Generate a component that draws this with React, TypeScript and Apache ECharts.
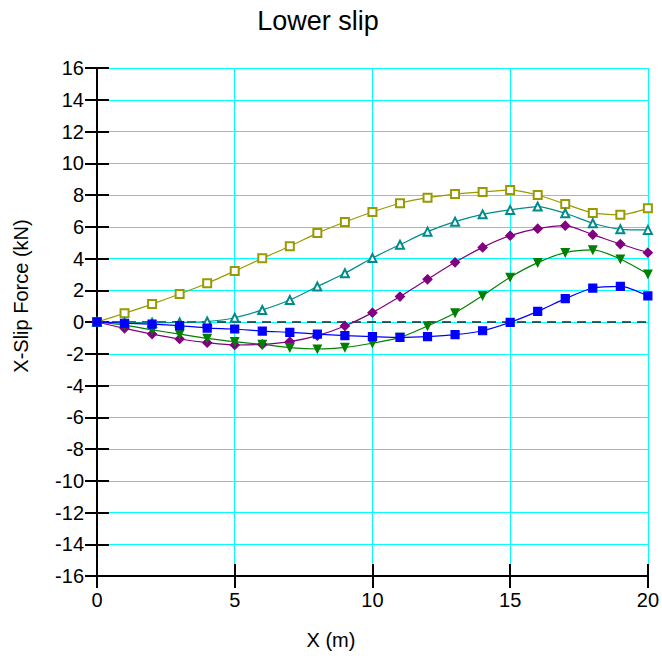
import React, { useEffect, useRef } from "react";
import * as echarts from "echarts";

const xValues = [0, 1, 2, 3, 4, 5, 6, 7, 8, 9, 10, 11, 12, 13, 14, 15, 16, 17, 18, 19, 20];
const oliveSquares = [0, 0.55, 1.13, 1.76, 2.44, 3.21, 4.01, 4.77, 5.6, 6.3, 6.93, 7.48, 7.83, 8.06, 8.19, 8.31, 8.0, 7.43, 6.87, 6.76, 7.16];
const tealTriangles = [0, -0.03, -0.05, -0.03, 0.03, 0.27, 0.76, 1.39, 2.23, 3.07, 4.03, 4.87, 5.69, 6.32, 6.78, 7.06, 7.27, 6.85, 6.22, 5.84, 5.8];
const purpleDiamonds = [0, -0.4, -0.76, -1.07, -1.3, -1.45, -1.41, -1.24, -0.86, -0.25, 0.59, 1.6, 2.69, 3.76, 4.7, 5.44, 5.88, 6.07, 5.5, 4.91, 4.37];
const greenTriangles = [0, -0.2, -0.5, -0.76, -1.03, -1.24, -1.41, -1.62, -1.7, -1.6, -1.34, -0.97, -0.25, 0.57, 1.66, 2.82, 3.74, 4.37, 4.54, 3.97, 3.02];
const blueSquares = [0, -0.08, -0.13, -0.23, -0.38, -0.44, -0.57, -0.65, -0.76, -0.86, -0.92, -0.97, -0.92, -0.8, -0.55, -0.02, 0.67, 1.47, 2.14, 2.25, 1.64];

const titleText = "Lower slip";
const xName = "X (m)";
const yName = "X-Slip Force (kN)";

const FONT = "Liberation Sans, Arial, sans-serif";

function pairs(vals: number[]) {
  return xValues.map((x, i) => [x, vals[i]]);
}

export default function App() {
  const ref = useRef<HTMLDivElement>(null);
  useEffect(() => {
    if (!ref.current) return;
    const chart = echarts.init(ref.current, null, { renderer: "svg" });
    const tickStyle = { color: "#000", width: 2 };
    const mkSeries = (name: string, vals: number[], color: string, symbol: string, size: number, rotate = 0, extra: any = {}) => ({
      name,
      type: "line",
      data: pairs(vals),
      smooth: 0.25,
      symbol,
      symbolSize: size,
      symbolRotate: rotate,
      showAllSymbol: true,
      lineStyle: { color, width: 1.2 },
      itemStyle: { color, borderColor: color, borderWidth: 1.2 },
      z: 3,
      ...extra,
    });
    chart.setOption({
      animation: false,
      backgroundColor: "#fff",
      grid: { left: 97, right: 13, top: 68, bottom: 80, containLabel: false },
      graphic: [
        {
          type: "text",
          x: 318,
          y: 21,
          style: { text: titleText, font: `27px ${FONT}`, fill: "#000", textAlign: "center", textVerticalAlign: "middle" },
        },
        {
          type: "text",
          x: 331,
          y: 640,
          style: { text: xName, font: `20px ${FONT}`, fill: "#000", textAlign: "center", textVerticalAlign: "middle" },
        },
        {
          type: "text",
          x: 21,
          y: 296,
          rotation: Math.PI / 2,
          style: { text: yName, font: `20px ${FONT}`, fill: "#000", textAlign: "center", textVerticalAlign: "middle" },
        },
      ],
      xAxis: [
        {
          type: "value",
          min: 0,
          max: 20,
          interval: 5,
          position: "bottom",
          axisLine: { onZero: false, lineStyle: tickStyle },
          axisTick: { show: true, inside: false, length: 12, lineStyle: tickStyle },
          axisLabel: { color: "#000", fontSize: 20, fontFamily: FONT, margin: 14 },
          splitLine: { show: true, lineStyle: { color: "#00ffff", width: 1 } },
        },
        {
          type: "value",
          min: 0,
          max: 20,
          interval: 5,
          position: "bottom",
          axisLine: { onZero: false, lineStyle: tickStyle },
          axisTick: { show: true, inside: true, length: 12, lineStyle: tickStyle },
          axisLabel: { show: false },
          splitLine: { show: false },
        },
      ],
      yAxis: [
        {
          type: "value",
          min: -16,
          max: 16,
          interval: 2,
          position: "left",
          axisLine: { onZero: false, lineStyle: tickStyle },
          axisTick: { show: true, inside: false, length: 12, lineStyle: tickStyle },
          axisLabel: { color: "#000", fontSize: 20, fontFamily: FONT, margin: 13 },
          splitLine: { show: true, lineStyle: { color: "#00ffff", width: 1 } },
        },
        {
          type: "value",
          min: -16,
          max: 16,
          interval: 2,
          position: "left",
          axisLine: { onZero: false, lineStyle: tickStyle },
          axisTick: { show: true, inside: true, length: 12, lineStyle: tickStyle },
          axisLabel: { show: false },
          splitLine: { show: false },
        },
      ],
      series: [
        mkSeries("A", oliveSquares, "#999900", "emptyRect", 8, 0, {
          markLine: {
            silent: true,
            symbol: "none",
            label: { show: false },
            lineStyle: { color: "#222", type: [9, 6], width: 1.6 },
            data: [{ yAxis: 0 }],
            z: 2,
          },
        }),
        mkSeries("B", tealTriangles, "#008b8b", "emptyTriangle", 8),
        mkSeries("C", purpleDiamonds, "#800080", "diamond", 9),
        mkSeries("D", greenTriangles, "#008000", "triangle", 8, 180),
        mkSeries("E", blueSquares, "#0000ff", "rect", 8),
      ],
    });
    return () => chart.dispose();
  }, []);
  return <div ref={ref} style={{ position: "fixed", left: 0, top: 0, width: 662, height: 656 }} />;
}
